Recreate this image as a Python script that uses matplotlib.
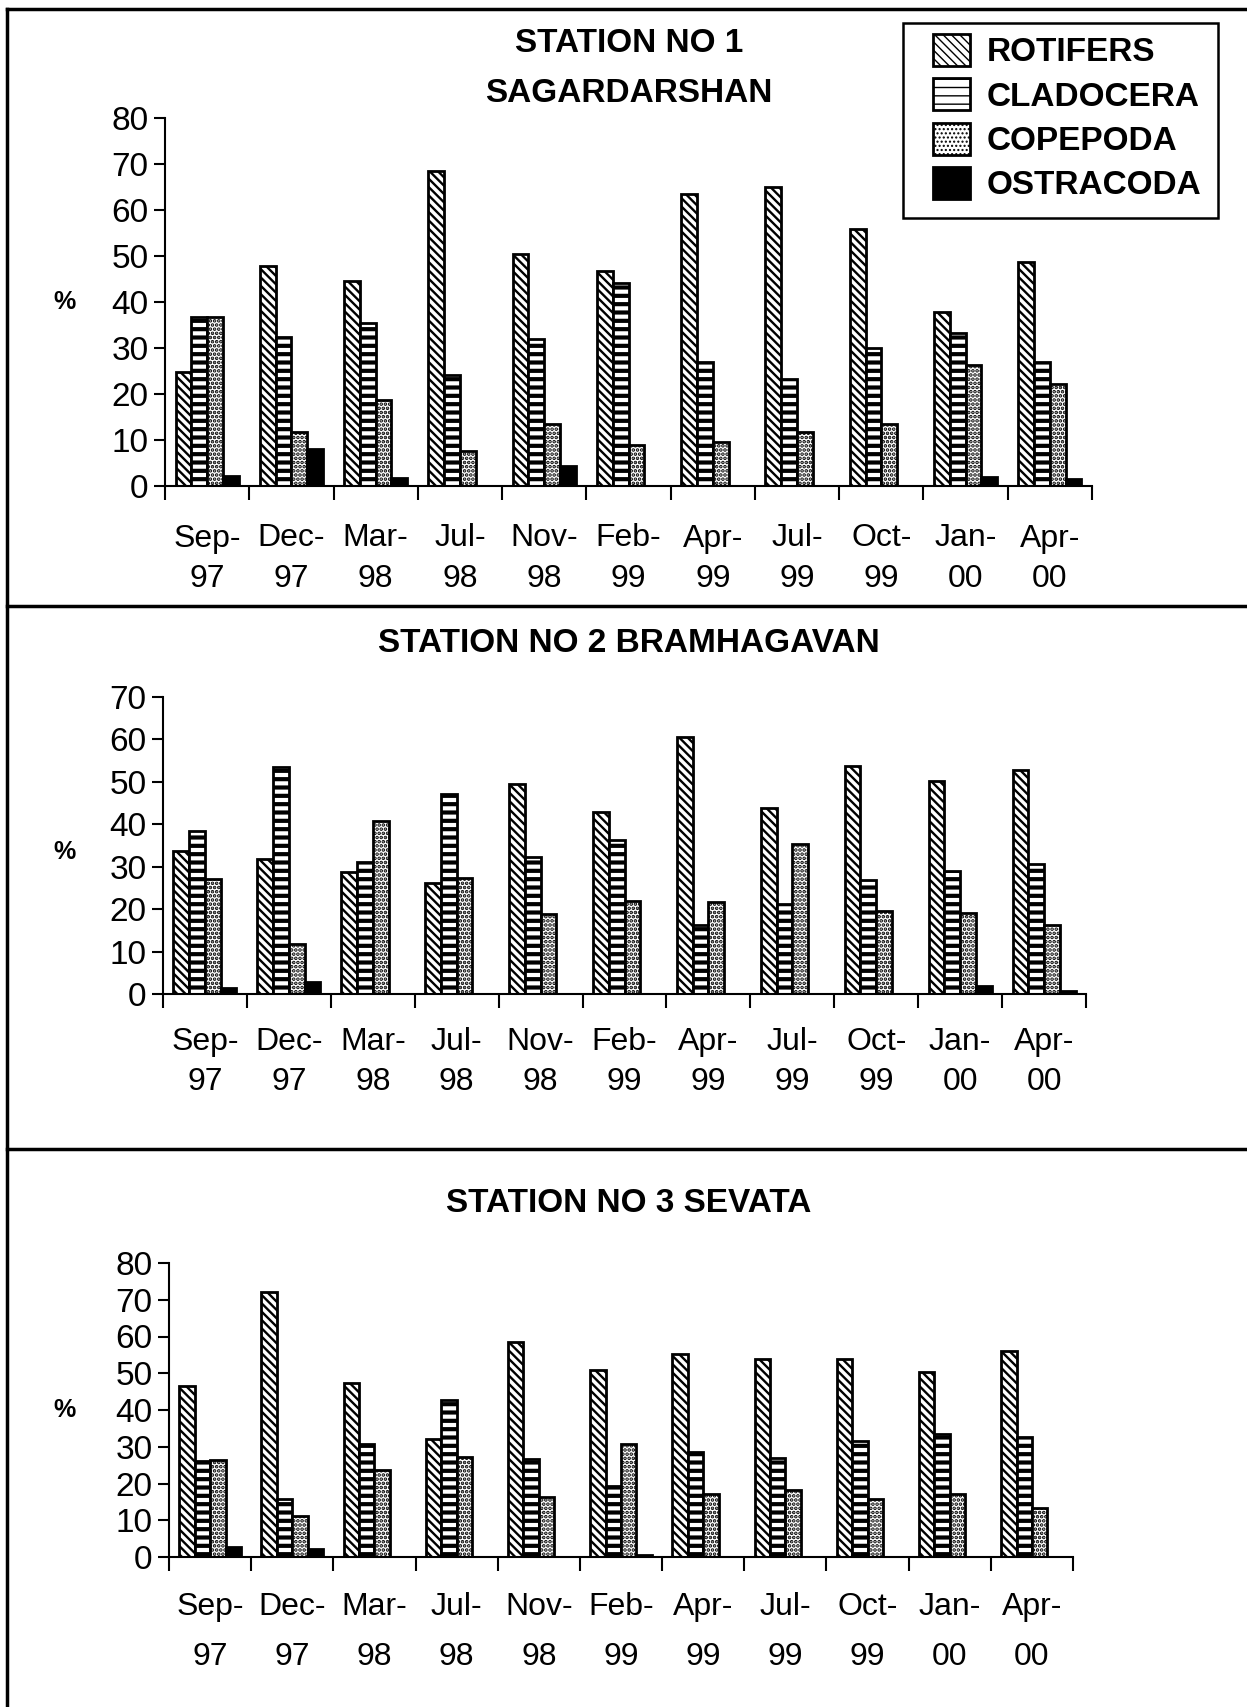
import numpy as np
import matplotlib.pyplot as plt
from matplotlib.lines import Line2D
from matplotlib.patches import Rectangle

plt.rcParams['font.family'] = ['Liberation Sans', 'DejaVu Sans']

# Meses de muestreo
meses = ['Sep-\n97', 'Dec-\n97', 'Mar-\n98', 'Jul-\n98', 'Nov-\n98', 'Feb-\n99',
         'Apr-\n99', 'Jul-\n99', 'Oct-\n99', 'Jan-\n00', 'Apr-\n00']
grupos = ['ROTIFERS', 'CLADOCERA', 'COPEPODA', 'OSTRACODA']

# Estación 1 - Sagardarshan (%)
st1_rot = [24.7, 47.9, 44.6, 68.4, 50.4, 46.7, 63.5, 65.0, 55.9, 37.8, 48.8]
st1_cla = [36.7, 32.5, 35.4, 24.1, 32.0, 44.1, 26.9, 23.2, 30.1, 33.2, 26.9]
st1_cop = [36.7, 11.7, 18.6, 7.6, 13.5, 8.9, 9.5, 11.7, 13.5, 26.2, 22.2]
st1_ost = [2.2, 8.0, 1.7, 0, 4.4, 0, 0, 0, 0, 2.0, 1.5]

# Estación 2 - Bramhagavan (%)
st2_rot = [33.6, 31.9, 28.7, 26.2, 49.4, 43.0, 60.6, 43.8, 53.8, 50.3, 52.8]
st2_cla = [38.3, 53.4, 31.0, 47.1, 32.4, 36.2, 16.3, 21.3, 26.8, 29.0, 30.6]
st2_cop = [27.0, 11.9, 40.7, 27.4, 18.8, 22.0, 21.7, 35.4, 19.6, 19.2, 16.3]
st2_ost = [1.5, 2.9, 0, 0, 0, 0, 0, 0, 0, 2.0, 0.7]

# Estación 3 - Sevata (%)
st3_rot = [46.4, 72.1, 47.3, 32.2, 58.5, 50.8, 55.3, 54.0, 53.9, 50.3, 56.0]
st3_cla = [26.0, 15.7, 30.8, 42.8, 26.6, 19.3, 28.6, 27.0, 31.7, 33.6, 32.7]
st3_cop = [26.5, 11.1, 23.6, 27.2, 16.3, 30.8, 17.1, 18.3, 15.8, 17.1, 13.2]
st3_ost = [2.7, 2.3, 0, 0, 0, 0.5, 0, 0, 0, 0, 0]

W, H = 1247, 1707
fig = plt.figure(figsize=(W / 100, H / 100), dpi=100)

tramas = ['\\\\\\\\', '--', '....', None]
grosor_trama = [1.7, 3.0, 1.8, 1.0]
relleno = ['white', 'white', 'white', 'black']


def caja(x0, x1, ytop, ybot):
    return [x0 / W, 1 - ybot / H, (x1 - x0) / W, (ybot - ytop) / H]


def panel(rect, datos, ymax, sep, pad):
    ax = fig.add_axes(rect)
    x = np.arange(len(meses))
    w = 0.1875
    barras = []
    for k, vals in enumerate(datos):
        with plt.rc_context({'hatch.linewidth': grosor_trama[k]}):
            b = ax.bar(x + (k - 1.5) * w, vals, w, color=relleno[k],
                       edgecolor='black', linewidth=2.0, hatch=tramas[k],
                       label=grupos[k])
        barras.append(b)
    ax.set_xlim(-0.5, len(meses) - 0.5)
    ax.set_ylim(0, ymax)
    ax.set_yticks(np.arange(0, ymax + 1, 10))
    ax.set_xticks(np.arange(len(meses) + 1) - 0.5)
    ax.set_xticklabels([])
    ax.set_xticks(x, meses, minor=True)
    ax.tick_params(axis='x', which='minor', length=0, pad=pad, labelsize=23)
    ax.tick_params(axis='x', which='major', length=10, width=1.5)
    ax.tick_params(axis='y', length=8, width=1.5, labelsize=24, pad=4)
    for lab in ax.get_xticklabels(minor=True):
        lab.set_linespacing(sep)
    for s in ['top', 'right']:
        ax.spines[s].set_visible(False)
    for s in ['left', 'bottom']:
        ax.spines[s].set_linewidth(1.5)
    return ax, barras


ax1, barras = panel(caja(165, 1092, 118, 486), [st1_rot, st1_cla, st1_cop, st1_ost], 80, 1.45, 27)
ax2, _ = panel(caja(163, 1086, 697, 994), [st2_rot, st2_cla, st2_cop, st2_ost], 70, 1.42, 24)
ax3, _ = panel(caja(169, 1073, 1263, 1557), [st3_rot, st3_cla, st3_cop, st3_ost], 80, 1.88, 25)

# Títulos y etiquetas
fig.text(629 / W, 1 - 43 / H, 'STATION NO 1', ha='center', va='center', fontsize=24, weight='bold')
fig.text(629 / W, 1 - 93 / H, 'SAGARDARSHAN', ha='center', va='center', fontsize=24, weight='bold')
fig.text(629 / W, 1 - 644 / H, 'STATION NO 2 BRAMHAGAVAN', ha='center', va='center', fontsize=24, weight='bold')
fig.text(629 / W, 1 - 1203 / H, 'STATION NO 3 SEVATA', ha='center', va='center', fontsize=24, weight='bold')
for yy in [302, 852, 1410]:
    fig.text(65 / W, 1 - yy / H, '%', ha='center', va='center', fontsize=18, weight='bold')

# Leyenda
fig.add_artist(Rectangle((903 / W, 1 - 218 / H), 315 / W, 195 / H, transform=fig.transFigure,
                         fill=False, edgecolor='black', linewidth=1.8))
fig.legend(barras, grupos, loc='upper left', bbox_to_anchor=(933 / W, 1 - 34 / H),
           bbox_transform=fig.transFigure, borderaxespad=0, borderpad=0, frameon=False,
           prop={'weight': 'bold', 'size': 24}, handlelength=1.1, handleheight=1.1,
           handletextpad=0.5, labelspacing=0.3)

# Marco y separadores
lw = 2.5
fig.add_artist(Line2D([7 / W, 7 / W], [1 - 9 / H, 0], color='black', lw=lw))
for yy in [9, 606, 1149]:
    fig.add_artist(Line2D([7 / W, 1], [1 - yy / H, 1 - yy / H], color='black', lw=lw))

fig.savefig('out.png', dpi=100)
